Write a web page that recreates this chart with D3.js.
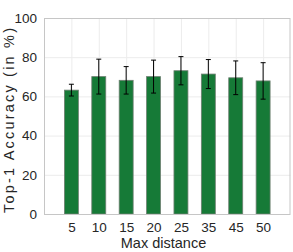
<!DOCTYPE html>
<html><head><meta charset="utf-8">
<script src="https://cdn.jsdelivr.net/npm/d3@7"></script>
<style>body{margin:0;background:#fff}svg{display:block}text{font-family:"Liberation Sans",Arial,sans-serif}</style>
</head><body><svg id="c" width="293" height="252"></svg>
<script>
const categories = ["5","10","15","20","25","35","45","50"];
const accuracy = [63.2, 70.1, 68.2, 70.1, 73.1, 71.4, 69.5, 67.9];
const errors = [3.0, 8.9, 7.0, 8.4, 7.2, 7.4, 8.6, 9.3];
const yTicks = [0, 20, 40, 60, 80, 100];

const svg = d3.select("#c");
const L = 44, R = 290.5, T = 18, B = 214;
const x = d3.scaleLinear().domain([0, categories.length + 1]).range([L, R]);
const y = d3.scaleLinear().domain([0, 100]).range([B, T]);
const bw = (x(1) - x(0)) * 0.51;

const g = svg.append("g");
// grid
g.selectAll(".hg").data(yTicks.filter(t => t > 0 && t < 100)).enter().append("line")
  .attr("x1", L).attr("x2", R).attr("y1", d => y(d) + 0.5).attr("y2", d => y(d) + 0.5)
  .attr("stroke", "#ececec").attr("stroke-width", 1);
g.selectAll(".vg").data(categories).enter().append("line")
  .attr("x1", (d, i) => x(i + 1) + 0.5).attr("x2", (d, i) => x(i + 1) + 0.5)
  .attr("y1", T).attr("y2", B).attr("stroke", "#ececec").attr("stroke-width", 1);

// bars
g.selectAll(".bar").data(accuracy).enter().append("rect")
  .attr("x", (d, i) => x(i + 1) - bw / 2).attr("width", bw)
  .attr("y", d => y(d)).attr("height", d => B - y(d))
  .attr("fill", "#167a37").attr("stroke", "#6f7f72").attr("stroke-width", 0.8);

// error bars
const eb = g.selectAll(".eb").data(accuracy).enter().append("g");
eb.append("line").attr("x1", (d, i) => x(i + 1)).attr("x2", (d, i) => x(i + 1))
  .attr("y1", (d, i) => y(d + errors[i])).attr("y2", (d, i) => y(d - errors[i]))
  .attr("stroke", "#000").attr("stroke-width", 1);
[1, -1].forEach(s => {
  eb.append("line").attr("x1", (d, i) => x(i + 1) - 2.5).attr("x2", (d, i) => x(i + 1) + 2.5)
    .attr("y1", (d, i) => y(d + s * errors[i])).attr("y2", (d, i) => y(d + s * errors[i]))
    .attr("stroke", "#000").attr("stroke-width", 1);
});

// box
g.append("rect").attr("x", L + 0.5).attr("y", T + 0.5).attr("width", R - L - 1).attr("height", B - T)
  .attr("fill", "none").attr("stroke", "#c6c6c6").attr("stroke-width", 1);

// y ticks
const ya = d3.axisLeft(y).tickValues(yTicks).tickSize(0).tickPadding(7);
svg.append("g").attr("transform", `translate(${L},0)`).call(ya)
  .call(a => a.select(".domain").remove())
  .selectAll("text").attr("font-size", 13.5).attr("fill", "#262626")
  .attr("font-family", "'Liberation Sans',Arial,sans-serif");

// x ticks
const xa = d3.axisBottom(x).tickValues(categories.map((c, i) => i + 1))
  .tickFormat((d) => categories[d - 1]).tickSize(0).tickPadding(8);
svg.append("g").attr("transform", `translate(0,${B})`).call(xa)
  .call(a => a.select(".domain").remove())
  .selectAll("text").attr("font-size", 13.5).attr("fill", "#262626")
  .attr("font-family", "'Liberation Sans',Arial,sans-serif");

svg.append("text").attr("x", 163.5).attr("y", 248).attr("text-anchor", "middle")
  .attr("font-size", 14.5).attr("fill", "#262626").text("Max distance");
svg.append("text").attr("transform", `translate(14,120.5) rotate(-90)`)
  .attr("text-anchor", "middle").attr("font-size", 14.5).attr("fill", "#262626")
  .attr("textLength", 185).attr("lengthAdjust", "spacing")
  .text("Top-1 Accuracy (in %)");
</script></body></html>
